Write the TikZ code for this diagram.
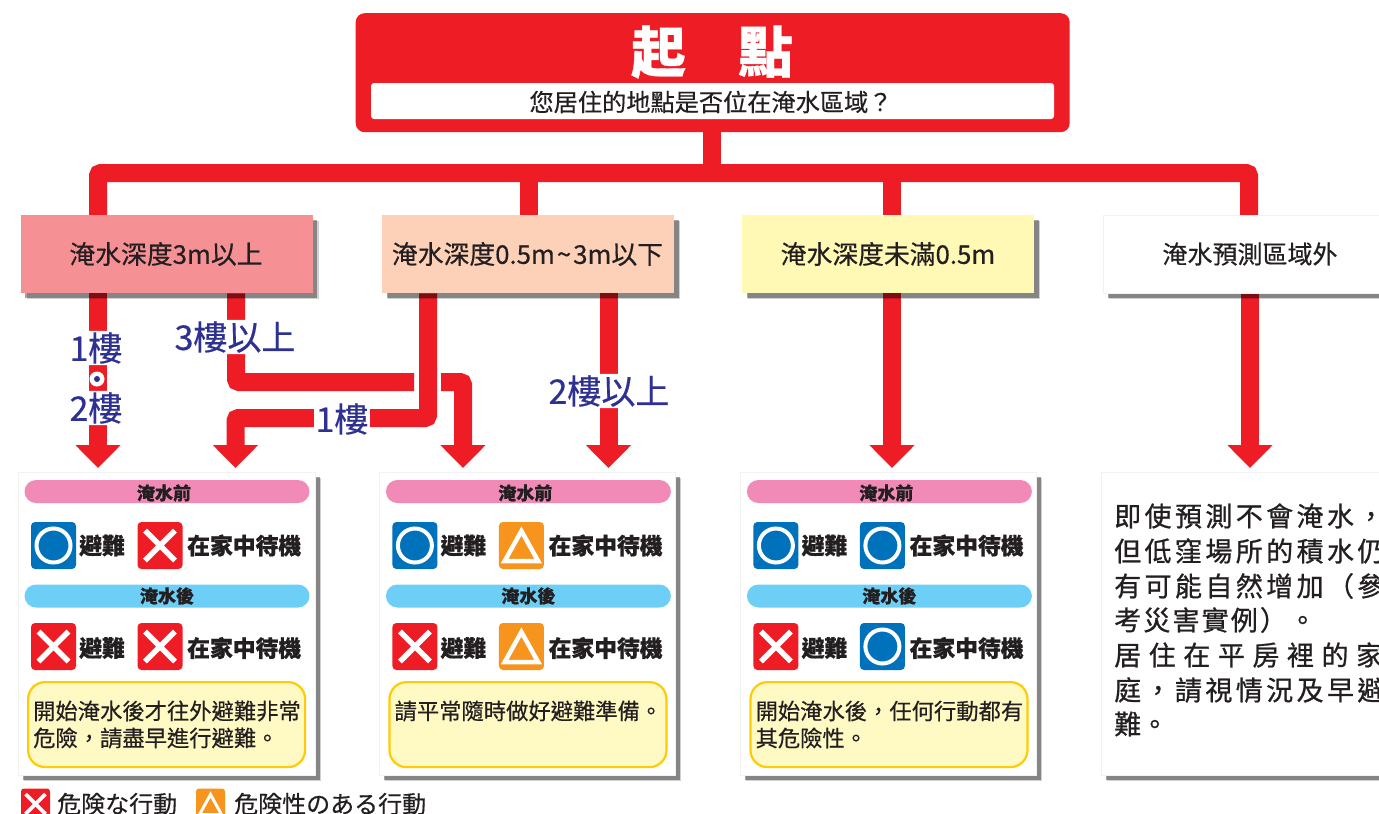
\documentclass[tikz,border=0pt]{standalone}
\usepackage{fontspec}
\setmainfont{Noto Sans CJK TC}[FakeBold=0.45,BoldFeatures={FakeBold=0.6}]
\usetikzlibrary{arrows.meta,shadows,calc}
\definecolor{cred}{HTML}{EE1C25}
\definecolor{cblue}{HTML}{0072BC}
\definecolor{corange}{HTML}{F7941D}
\definecolor{cink}{HTML}{231F20}
\definecolor{clabel}{HTML}{2E3192}
\definecolor{cpink}{HTML}{F28AB7}
\definecolor{csky}{HTML}{6DCFF6}
\definecolor{cnote}{HTML}{FFF9C4}
\definecolor{cnoteline}{HTML}{FFCB05}
\definecolor{cboxa}{HTML}{F59095}
\definecolor{cboxb}{HTML}{FDD0B8}
\definecolor{cboxc}{HTML}{FFF9B5}
\pgfdeclarelayer{under}
\pgfsetlayers{under,main}
\newcommand{\fs}[1]{\fontsize{#1}{#1}\selectfont}
\tikzset{
  x=1pt,y=-1pt,
  pipe/.style={draw=cred,line width=18pt,rounded corners=3pt},
  pipearrow/.style={pipe,-{Triangle[length=23pt,width=44pt]}},
  softshadow/.style={drop shadow={shadow xshift=6pt,shadow yshift=-6pt,fill=black,opacity=.18},drop shadow={shadow xshift=4.5pt,shadow yshift=-4.5pt,fill=black,opacity=.36}},
  depthbox/.style={anchor=north west,minimum width=292pt,minimum height=78pt,inner sep=0pt,softshadow},
  depthtext/.style={inner sep=0pt,text=cink,font=\fs{25.8}},
  panel/.style={anchor=north west,minimum width=297pt,minimum height=303pt,inner sep=0pt,fill=white,draw=black!5,line width=.5pt,softshadow},
  pill/.style={minimum width=285pt,minimum height=23pt,inner sep=0pt,rounded corners=11.5pt},
  pilltext/.style={inner sep=0pt,text=cink,font=\bfseries\fs{18}},
  notebox/.style={anchor=north west,minimum width=277pt,minimum height=85pt,inner sep=0pt,rounded corners=17pt,fill=cnote,draw=cnoteline,line width=2.2pt},
  act/.style={anchor=west,inner sep=0pt,text=cink,font=\bfseries\fs{22.8}},
  notetext/.style={anchor=west,inner sep=0pt,text=cink,font=\fs{22.3}},
  floorlabel/.style={fill=white,rounded corners=4pt,inner sep=1.5pt,text=clabel,font=\fs{34}},
  side/.style={anchor=west,inner sep=0pt,text=cink,font=\fs{27}\addfontfeature{FakeBold=0.8}},
  legend/.style={anchor=west,inner sep=0pt,text=cink,font=\fs{24}},
  okicon/.pic={\fill[cblue,rounded corners=4pt](-22.5,-23.5) rectangle (22.5,23.5);
    \draw[white,line width=4pt] (0,0) circle (17pt);},
  noicon/.pic={\fill[cred,rounded corners=4pt](-22.5,-23.5) rectangle (22.5,23.5);
    \draw[white,line width=5.5pt] (-15,-15)--(15,15) (-15,15)--(15,-15);},
  warnicon/.pic={\fill[corange,rounded corners=4pt](-22.5,-23.5) rectangle (22.5,23.5);
    \draw[white,line width=4.5pt,miter limit=3] (0,-14.5)--(16.7,15.5)--(-16.7,15.5)--cycle;},
  smallnoicon/.pic={\fill[cred,rounded corners=3pt](-14.5,-15.5) rectangle (14.5,15.5);
    \draw[white,line width=3.6pt] (-10,-10)--(10,10) (-10,10)--(10,-10);},
  smallwarnicon/.pic={\fill[corange,rounded corners=3pt](-14.5,-15.5) rectangle (14.5,15.5);
    \draw[white,line width=3pt,miter limit=3] (0,-9.5)--(11,10.5)--(-11,10.5)--cycle;},
}
\newcommand{\decision}[8]{%
  \node[pill,fill=cpink] (#2pa) at ($(#1,491.5)+(149,0)$) {};
  \node[pilltext] (#2ta) at ($(#1,493)+(146,0)$) {淹水前};
  \node[pill,fill=csky] (#2pb) at ($(#1,596)+(149,0)$) {};
  \node[pilltext] (#2tb) at ($(#1,596)+(149,0)$) {淹水後};
  \pic at ($(#1,545.5)+(35.5,0)$) {#3};
  \pic at ($(#1,545.5)+(142,0)$) {#4};
  \pic at ($(#1,646.5)+(35.5,0)$) {#5};
  \pic at ($(#1,646.5)+(142,0)$) {#6};
  \node[act] (#2a) at ($(#1,545.5)+(61,0)$) {避難};
  \node[act] (#2b) at ($(#1,545.5)+(169,0)$) {在家中待機};
  \node[act] (#2c) at ($(#1,648)+(61,0)$) {避難};
  \node[act] (#2d) at ($(#1,648)+(169,0)$) {在家中待機};
  \node[notebox] (#2n) at ($(#1,681)+(9,0)$) {};
  \node[notetext] (#2x) at ($(#1,711)+(15,0)$) {#7};
  \node[notetext] (#2y) at ($(#1,738)+(15,0)$) {#8};
}
\begin{document}
\begin{tikzpicture}
\useasboundingbox (0,0) rectangle (1379,814);
% start
\node[anchor=north west,minimum width=714pt,minimum height=119pt,inner sep=0pt,fill=cred,rounded corners=9pt] (start) at (355.5,13) {};
\node[minimum width=683pt,minimum height=36pt,inner sep=0pt,fill=white,rounded corners=3pt] (q) at (712.5,101) {};
\node[inner sep=0pt,text=cink,font=\fs{24.2}] (qt) at (711,102) {您居住的地點是否位在淹水區域？};
\node[inner sep=0pt,text=white,font=\bfseries\fs{55}] (title) at (712,52) {起\hspace{52pt}點};
% depth boxes
\node[depthbox,fill=cboxa] (d1) at (20.5,215) {};
\node[depthtext] (d1t) at (166,254) {淹水深度3m以上};
\node[depthbox,fill=cboxb] (d2) at (382,215) {};
\node[depthtext] (d2t) at (527.5,254) {淹水深度0.5m\kern2pt\textasciitilde\kern2pt 3m以下};
\node[depthbox,fill=cboxc] (d3) at (742,215) {};
\node[depthtext] (d3t) at (888,254) {淹水深度未滿0.5m};
\node[depthbox,fill=white,minimum width=290pt,draw=black!5,line width=.5pt] (d4) at (1103,215) {};
\node[depthtext,font=\fs{25}] (d4t) at (1250,254) {淹水預測區域外};
% panels
\node[panel] (pa) at (18,472) {};
\node[panel,minimum width=296pt] (pb) at (379,472) {};
\node[panel,minimum width=296pt] (pc) at (740,472) {};
\decision{18}{pa}{okicon}{noicon}{noicon}{noicon}{開始淹水後才往外避難非常}{危險，請盡早進行避難。}
\decision{379.4}{pb}{okicon}{warnicon}{noicon}{warnicon}{請平常隨時做好避難準備。}{}
\decision{740.4}{pc}{okicon}{okicon}{noicon}{okicon}{開始淹水後，任何行動都有}{其危險性。}
\node[panel,minimum width=290pt] (pd) at (1101,472) {};
\node[side,font=\fs{27}\addfontfeature{FakeBold=0.8,LetterSpace=12.6}] (s1) at (1114,516) {即使預測不會淹水，};
\node[side,font=\fs{27}\addfontfeature{FakeBold=0.8,LetterSpace=12.6}] (s2) at (1114,551) {但低窪場所的積水仍};
\node[side,font=\fs{27}\addfontfeature{FakeBold=0.8,LetterSpace=12.6}] (s3) at (1114,586) {有可能自然增加（參};
\node[side,font=\fs{27}\addfontfeature{FakeBold=0.8,LetterSpace=8}] (s4) at (1114,620) {考災害實例）。};
\node[side,font=\fs{27}\addfontfeature{FakeBold=0.8,LetterSpace=28}] (s5) at (1114,655) {居住在平房裡的家};
\node[side,font=\fs{27}\addfontfeature{FakeBold=0.8,LetterSpace=12.6}] (s6) at (1114,690) {庭，請視情況及早避};
\node[side] (s7) at (1114,724) {難。};
% legend
\pic at (35.5,804) {smallnoicon};
\node[legend] (l1) at (57,804) {危険な行動};
\pic at (210.5,804) {smallwarnicon};
\node[legend] (l2) at (234,804) {危険性のある行動};
% free ends and floor labels
\coordinate (t1) at (98,468);
\coordinate (t2) at (235.5,468);
\coordinate (t3) at (463,468);
\coordinate (t4) at (608.5,468);
\coordinate (t5) at (892,468);
\coordinate (t6) at (1250,468);
\coordinate (m1) at (236,382);
\coordinate (m2) at (414,382);
\coordinate (m3) at (441,382);
\coordinate (m4) at (463,382);
\coordinate (m5) at (428,418);
\coordinate (m6) at (235.5,418);
\node[floorlabel] (f1) at (96,348) {1樓};
\node[floorlabel] (f2) at (96,408) {2樓};
\node[circle,fill=white,minimum size=15pt,inner sep=0pt] (f3) at (97,379) {};
\fill[clabel] (f3) circle (3pt);
\node[floorlabel] (f4) at (235,337) {3樓以上};
\node[floorlabel] (f5) at (342,419) {1樓};
\node[floorlabel] (f6) at (609,391) {2樓以上};
% connectors beneath everything
\begin{pgfonlayer}{under}
\fill[white] (0,0) rectangle (1379,814);
\draw[pipe] (start.south -| 712,0) -- (712,173);
\draw[pipe] (d1.north -| 98,0) -- (98,173) -- (1249,173) -- (d4.north -| 1249,0);
\draw[pipe] (529,173) -- (d2.north -| 529,0);
\draw[pipe] (892,173) -- (d3.north -| 892,0);
\draw[pipearrow] (d1.south -| t1) -- (t1);
\draw[pipe] (d1.south -| m1) -- (m1) -- (m2);
\draw[pipearrow] (m3) -- (m4) -- (t3);
\draw[pipearrow] (d2.south -| m5) -- (m5) -- (m6) -- (t2);
\draw[pipearrow] (d2.south -| t4) -- (t4);
\draw[pipearrow] (d3.south -| t5) -- (t5);
\draw[pipearrow] (d4.south -| t6) -- (t6);
\end{pgfonlayer}
\end{tikzpicture}
\end{document}
